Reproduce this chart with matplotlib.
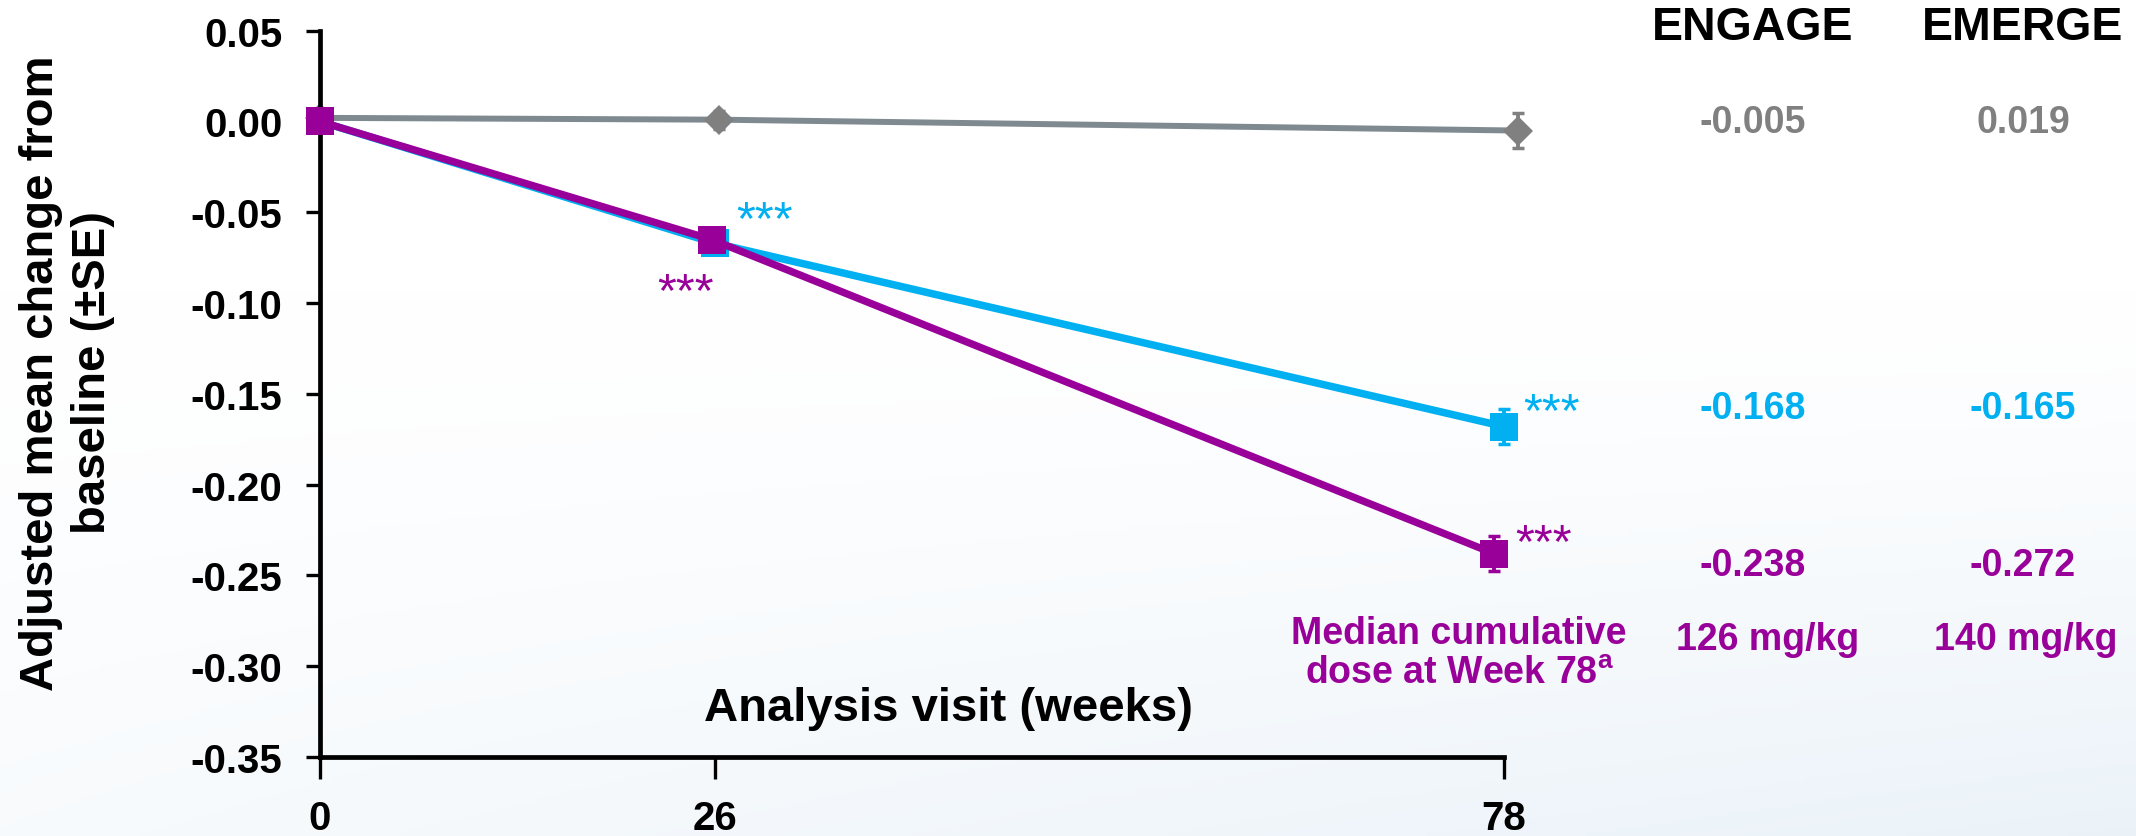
import numpy as np
import matplotlib
matplotlib.use('Agg')
import matplotlib.pyplot as plt

plt.rcParams['font.family'] = ['Liberation Sans', 'DejaVu Sans']
plt.rcParams['mathtext.fontset'] = 'custom'
plt.rcParams['mathtext.rm'] = 'Liberation Sans'
plt.rcParams['mathtext.bf'] = 'Liberation Sans:bold'

# visits and adjusted mean change (ENGAGE) with SE
weeks = [0, 26, 78]
studies = ['ENGAGE', 'EMERGE']
engage_w78 = [-0.005, -0.168, -0.238]   # placebo, low dose, high dose
emerge_w78 = [0.019, -0.165, -0.272]
dose_w78 = ['126 mg/kg', '140 mg/kg']

placebo_mean = [0.002, 0.001, engage_w78[0]]
placebo_se = [0.004, 0.005, 0.0095]
low_mean = [0.0, -0.067, engage_w78[1]]
low_se = [0.0, 0.0055, 0.0094]
high_mean = [0.0, -0.065, engage_w78[2]]
high_se = [0.0, 0.0055, 0.0098]

BLUE = '#00B0F0'
PURPLE = '#990099'
GREY = '#808080'
GREY_LINE = '#7F8A90'

W, H = 2136, 837
fig = plt.figure(figsize=(W / 100, H / 100), dpi=100)

def fx(px):
    return px / W

def fy(py):
    return 1 - py / H

# soft background wash, stronger toward the lower right
bg = fig.add_axes([0, 0, 1, 1], zorder=-1)
yy, xx = np.mgrid[0:1:200j, 0:1:400j]
w = np.clip((yy - 0.35) / 0.65, 0, 1) ** 1.3 * (0.35 + 0.65 * xx)
tint = np.array([0.92, 0.95, 0.975])
img = 1 - w[..., None] * (1 - tint)
bg.imshow(img, aspect='auto', extent=[0, 1, 1, 0])
bg.axis('off')

ax = fig.add_axes([fx(320), fy(758), fx(1504) - fx(320), fy(31.7) - fy(758)])
ax.set_facecolor('none')

# small horizontal dodge so the groups don't hide each other
shift = {'placebo': [0, 0.3, 0.95], 'low': [0, 0, 0], 'high': [0, -0.2, -0.65]}

series = [
    ('placebo', placebo_mean, placebo_se, GREY_LINE, GREY, 'D', 15.5, 4.3, 2),
    ('low', low_mean, low_se, BLUE, BLUE, 's', 20, 5.4, 3),
    ('high', high_mean, high_se, PURPLE, PURPLE, 's', 20, 5.3, 4),
]
pos = {}
for name, m, se, lc, mc, mk, ms, lw, z in series:
    x = np.array(weeks) + np.array(shift[name])
    pos[name] = (x, m)
    ax.plot(x, m, '-', color=lc, lw=lw, zorder=z, clip_on=False, solid_capstyle='butt')
    eb = ax.errorbar(x, m, yerr=se, fmt='none', ecolor=mc, elinewidth=2.8,
                     capsize=4.5, capthick=2.5, zorder=z, clip_on=False)
    for art in eb.lines[1] + eb.lines[2]:
        art.set_clip_on(False)
    ax.plot(x, m, linestyle='none', marker=mk, ms=ms, color=mc,
            markeredgewidth=0, zorder=z + 0.5, clip_on=False)

ax.set_xlim(0, 78)
ax.set_ylim(-0.35, 0.05)
ax.set_xticks(weeks)
yt = np.arange(-0.35, 0.051, 0.05)
ax.set_yticks(yt)
ax.set_yticklabels(['%.2f' % v if abs(v) > 1e-9 else '0.00' for v in yt])
for s in ['top', 'right']:
    ax.spines[s].set_visible(False)
for s in ['left', 'bottom']:
    ax.spines[s].set_linewidth(3.4)
ax.tick_params(axis='y', length=10, width=2.4, pad=17, labelsize=29)
ax.tick_params(axis='x', length=16, width=2.4, pad=14, labelsize=29)
for lab in ax.get_xticklabels() + ax.get_yticklabels():
    lab.set_fontweight('bold')

# significance stars
stars = [('low', 1, BLUE, 36, 16), ('high', 1, PURPLE, -19, -38),
         ('low', 2, BLUE, 34, 10), ('high', 2, PURPLE, 35.5, 7)]
for name, i, c, dx, dy in stars:
    x, m = pos[name]
    ax.annotate('***', xy=(x[i], m[i]), xytext=(dx, dy), textcoords='offset points',
                ha='center', va='center', fontsize=35, color=c, annotation_clip=False)

fig.text(fx(949), fy(709), 'Analysis visit (weeks)', ha='center', va='center',
         fontsize=34, fontweight='bold')
fig.text(fx(67), fy(373), 'Adjusted mean change from\nbaseline (±SE)', rotation=90,
         ha='center', va='center', multialignment='center', fontsize=34,
         fontweight='bold', linespacing=1.25)

# results table at week 78
col_x = [1753, 2023]
for s, cx in zip(studies, col_x):
    fig.text(fx(cx), fy(28), s, ha='center', va='center', fontsize=33.5, fontweight='bold')
row_y = [123, 409, 566]
row_c = [GREY, BLUE, PURPLE]
for r in range(3):
    for vals, cx in zip([engage_w78, emerge_w78], col_x):
        fig.text(fx(cx), fy(row_y[r]), '%.3f' % vals[r], ha='center', va='center',
                 fontsize=27, fontweight='bold', color=row_c[r])
for d, cx in zip(dose_w78, [1768, 2026]):
    fig.text(fx(cx), fy(640), d, ha='center', va='center', fontsize=27,
             fontweight='bold', color=PURPLE)
fig.text(fx(1459), fy(654), 'Median cumulative\ndose at Week 78$^{\\mathbf{a}}$',
         ha='center', va='center', multialignment='center', fontsize=27,
         fontweight='bold', color=PURPLE, linespacing=1.15)

fig.savefig('out.png', dpi=100)
